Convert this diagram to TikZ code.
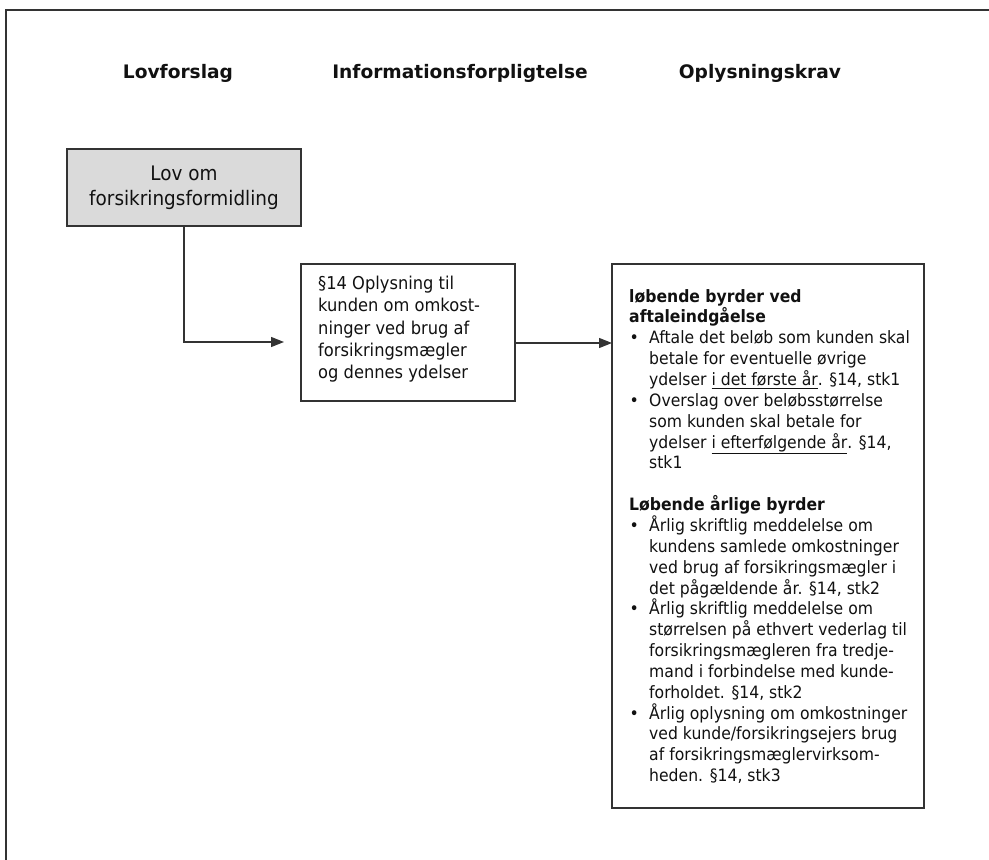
\documentclass[tikz,border=0pt]{standalone}
\usepackage{fontspec}
\setmainfont[FakeStretch=0.92]{DejaVu Sans}
\newfontfamily\hdfont{DejaVu Sans}
\usetikzlibrary{arrows.meta}
\definecolor{linec}{HTML}{333333}
\definecolor{boxgray}{HTML}{DADADA}
\definecolor{txt}{HTML}{111111}
\newcommand{\bul}{\makebox[20pt][l]{\hspace*{0.5pt}\textbullet}}
\newcommand{\ind}{\hspace*{20pt}}
\begin{document}
\begin{tikzpicture}[x=1pt,y=-1pt,
  frameline/.style={draw=linec,line width=1.8pt},
  boxline/.style={draw=linec,line width=1.3pt},
  header/.style={font=\hdfont\fontsize{18.6}{22}\selectfont\bfseries,text=txt,inner sep=0pt},
  bodytext/.style={font=\fontsize{17}{20.85}\selectfont,text=txt,align=left,inner sep=0pt,anchor=north west},
  midtext/.style={font=\fontsize{17.7}{22.3}\selectfont,text=txt,align=left,inner sep=0pt,anchor=north west},
  lovtext/.style={font=\fontsize{20}{25}\selectfont,text=txt,align=center,inner sep=0pt},
  arrowline/.style={draw=linec,line width=1.3pt,-{Triangle[length=13pt,width=10pt]}}
]
\useasboundingbox (0,0) rectangle (989,860);
\fill[white] (0,0) rectangle (989,860);
% outer frame
\draw[frameline] (6,862) -- (6,10) -- (991,10);
% headers
\node[header] (h1) at (178,73) {Lovforslag};
\node[header] (h2) at (460,73) {Informationsforpligtelse};
\node[header] (h3) at (760,73) {Oplysningskrav};
% boxes
\draw[boxline,fill=boxgray] (67,149) rectangle (301,226);
\node[lovtext] (lov) at (184,187.5) {Lov om\\forsikringsformidling};
\coordinate (lovS) at (184,226);
\draw[boxline] (301,264) rectangle (515,401);
\node[midtext] (mid) at (318,276) {§14 Oplysning til\\kunden om omkost-\\ninger ved brug af\\forsikringsmægler\\og dennes ydelser};
\coordinate (midE) at (515,343);
\draw[boxline] (612,264) rectangle (924,808);
\coordinate (kravW) at (612,343);
\node[bodytext] (krav) at (629,289) {%
\textbf{løbende byrder ved}\\
\textbf{aftaleindgåelse}\\
\bul Aftale det beløb som kunden skal\\
\ind betale for eventuelle øvrige\\
\ind ydelser \underline{i det første år}. §14, stk1\\
\bul Overslag over beløbsstørrelse\\
\ind som kunden skal betale for\\
\ind ydelser \underline{i efterfølgende år}. §14,\\
\ind stk1\\
\mbox{}\\
\textbf{Løbende årlige byrder}\\
\bul Årlig skriftlig meddelelse om\\
\ind kundens samlede omkostninger\\
\ind ved brug af forsikringsmægler i\\
\ind det pågældende år. §14, stk2\\
\bul Årlig skriftlig meddelelse om\\
\ind størrelsen på ethvert vederlag til\\
\ind forsikringsmægleren fra tredje-\\
\ind mand i forbindelse med kunde-\\
\ind forholdet. §14, stk2\\
\bul Årlig oplysning om omkostninger\\
\ind ved kunde/forsikringsejers brug\\
\ind af forsikringsmæglervirksom-\\
\ind heden. §14, stk3};
% connectors
\coordinate (lovend) at (284,342);
\draw[arrowline] (lovS) |- (lovend);
\draw[arrowline] (midE) -- (kravW);
\end{tikzpicture}
\end{document}
